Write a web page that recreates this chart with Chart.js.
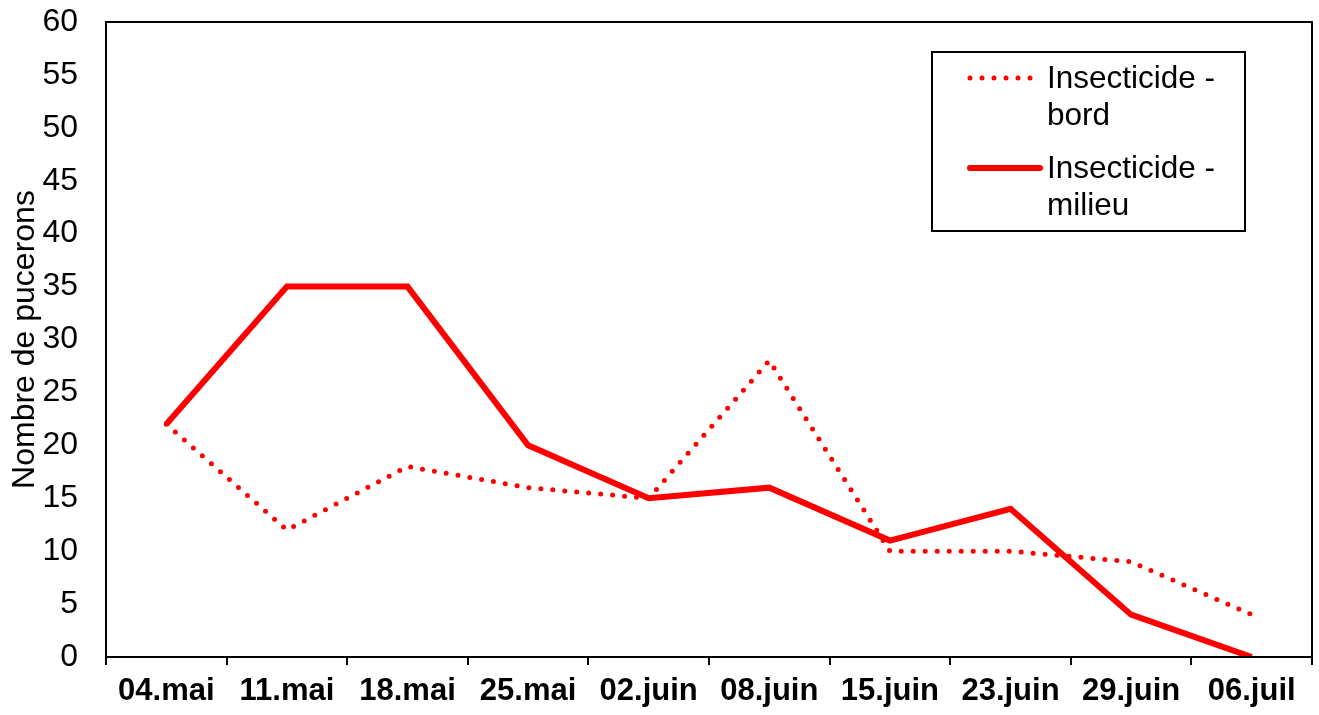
<!DOCTYPE html>
<html>
<head>
<meta charset="utf-8">
<script src="https://cdn.jsdelivr.net/npm/chart.js@4"></script>
<style>
  html, body { margin: 0; padding: 0; background: #fff; }
  #wrap { width: 1319px; height: 715px; }
</style>
</head>
<body>
<div id="wrap"><canvas id="aphid-chart"></canvas></div>
<script>
// Data
const dates = ["04.mai", "11.mai", "18.mai", "25.mai", "02.juin", "08.juin", "15.juin", "23.juin", "29.juin", "06.juil"];
const bordValues = [22, 12, 18, 16, 15, 28, 10, 10, 9, 4];
const milieuValues = [22, 35, 35, 20, 15, 16, 11, 14, 4, 0];
const seriesNames = ["Insecticide - bord", "Insecticide - milieu"];
const yAxisTitle = "Nombre de pucerons";

const FONT = "Arial, 'Liberation Sans', sans-serif";

// Frame around the plot area + boxed legend like the original
const framePlugin = {
  id: "frame",
  afterDraw(chart) {
    const { ctx, chartArea } = chart;
    ctx.save();
    ctx.strokeStyle = "#000";
    ctx.lineWidth = 2;
    ctx.strokeRect(chartArea.left, chartArea.top, chartArea.right - chartArea.left, chartArea.bottom - chartArea.top);

    // legend box
    const bx = 932, by = 52, bw = 313, bh = 179;
    ctx.fillStyle = "#fff";
    ctx.fillRect(bx, by, bw, bh);
    ctx.strokeRect(bx, by, bw, bh);

    ctx.font = "31.5px " + FONT;
    ctx.textBaseline = "middle";
    ctx.fillStyle = "#000";
    chart.data.datasets.forEach((ds, i) => {
      const y = 78 + i * 90;
      ctx.beginPath();
      ctx.strokeStyle = ds.borderColor;
      ctx.lineWidth = ds.borderWidth;
      ctx.lineCap = "round";
      ctx.setLineDash(ds.borderDash || []);
      ctx.moveTo(970, y);
      ctx.lineTo(1040, y);
      ctx.stroke();
      ctx.setLineDash([]);
      const parts = ds.label.split(" - ");
      ctx.fillText(parts[0] + " -", 1047, y + 1);
      ctx.fillText(parts[1], 1047, y + 38);
    });
    ctx.restore();
  }
};

new Chart(document.getElementById("aphid-chart"), {
  type: "line",
  data: {
    labels: dates,
    datasets: [
      {
        label: seriesNames[0],
        data: bordValues,
        borderColor: "#ff0000",
        borderWidth: 5,
        borderDash: [0, 12],
        borderCapStyle: "round",
        pointRadius: 0,
        tension: 0,
      },
      {
        label: seriesNames[1],
        data: milieuValues,
        borderColor: "#ff0000",
        borderWidth: 6,
        pointRadius: 0,
        tension: 0,
      },
    ],
  },
  options: {
    responsive: true,
    maintainAspectRatio: false,
    animation: false,
    layout: { padding: { top: 22, right: 7, left: 0, bottom: 0 } },
    plugins: { legend: { display: false }, tooltip: { enabled: false } },
    scales: {
      x: {
        offset: true,
        afterFit: (s) => { s.height = 58; s.paddingLeft = 0; s.paddingRight = 0; },
        grid: { display: true, drawOnChartArea: false, offset: true, drawTicks: true, tickLength: 8, color: "#000", lineWidth: 2 },
        border: { display: true, color: "#000", width: 2 },
        ticks: { color: "#000", padding: 8, maxRotation: 0, autoSkip: false, font: { family: FONT, size: 31, weight: "bold" } },
      },
      y: {
        min: 0,
        max: 60,
        afterFit: (s) => { s.width = 106; s.paddingTop = 0; s.paddingBottom = 0; },
        grid: { display: false, drawTicks: false },
        border: { display: true, color: "#000", width: 2 },
        ticks: { stepSize: 5, color: "#000", padding: 28, font: { family: FONT, size: 32 } },
        title: { display: true, text: yAxisTitle, color: "#000", padding: { top: 6, bottom: 0 }, font: { family: FONT, size: 32 } },
      },
    },
  },
  plugins: [framePlugin],
});
</script>
</body>
</html>
